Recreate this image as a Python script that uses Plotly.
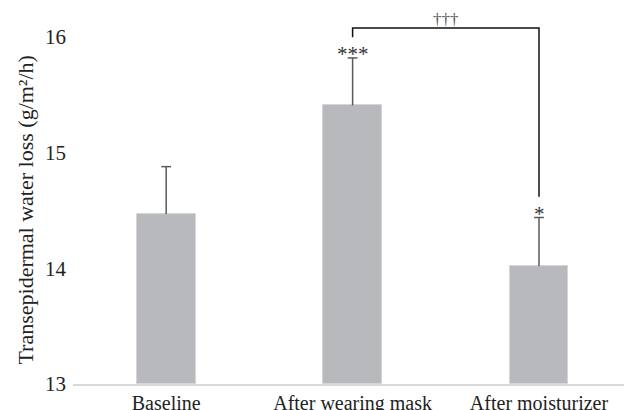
import plotly.graph_objects as go

categories = ["Baseline", "After wearing mask", "After moisturizer"]
means = [14.47, 15.41, 14.02]
errors = [0.41, 0.41, 0.42]
stars = ["", "***", "*"]
y_ticks = [13, 14, 15, 16]
bracket_label = "†††"
y_title = "Transepidermal water loss (g/m²/h)"

FONT = "Liberation Serif"
xs = list(range(len(categories)))
fig = go.Figure()
fig.add_trace(go.Bar(
    x=xs, y=[m - 13 for m in means], base=13,
    width=0.316,
    marker=dict(color="#b8b9bc", line=dict(color="#d4d5d7", width=1)),
    error_y=dict(type="data", array=errors, arrayminus=[0] * len(errors),
                 symmetric=False, visible=True, color="#5a5a5a",
                 thickness=1.5, width=0),
    showlegend=False, hoverinfo="skip",
))
# error bar caps (top only)
fig.add_trace(go.Scatter(
    x=xs, y=[m + e for m, e in zip(means, errors)], mode="markers",
    marker=dict(symbol="line-ew", size=7, line=dict(color="#5a5a5a", width=1.5)),
    showlegend=False, hoverinfo="skip", cliponaxis=False,
))

# significance stars
for i, s in enumerate(stars):
    if s:
        fig.add_annotation(x=i, y=means[i] + errors[i], text=s, showarrow=False,
                           yanchor="bottom", yshift=-10,
                           font=dict(family=FONT, size=21, color="#333"))

# bracket between mask and moisturizer
top = 16.08
fig.add_shape(type="path",
              path=f"M 1 16.0 L 1 {top} L 2 {top} L 2 14.62",
              xref="x", yref="y", line=dict(color="#111", width=1.5))
fig.add_annotation(x=1.5, y=top, text=bracket_label, showarrow=False,
                   yanchor="bottom", yshift=-3,
                   font=dict(family=FONT, size=17, color="#555"))

fig.add_annotation(x=(26 - 73) / (624 - 73), xref="x domain", xanchor="center",
                   y=(16 + 13) / 2, yref="y",
                   text=y_title, textangle=-90, showarrow=False,
                   font=dict(family=FONT, size=22, color="#222"))

fig.update_layout(
    width=624, height=410,
    margin=dict(l=73, r=0, t=14, b=26, pad=0),
    paper_bgcolor="white", plot_bgcolor="white",
    font=dict(family=FONT, size=21, color="#222"),
    bargap=0,
    xaxis=dict(range=[-0.5, 2.456], tickmode="array",
               tickvals=xs, ticktext=categories,
               tickfont=dict(size=20),
               showline=True, linecolor="#d9d9d9", linewidth=1.5,
               showgrid=False, zeroline=False, ticks="",
               ticklabelstandoff=0, automargin=False),
    yaxis=dict(range=[13, 16.2], tickmode="array", tickvals=y_ticks,
               showline=False, showgrid=False, zeroline=False, ticks="",
               ticklabelstandoff=6, automargin=False),
)

fig.write_html("out.html", config={"displayModeBar": False},
               post_script="document.body.style.margin='0';document.body.style.overflow='hidden';")
